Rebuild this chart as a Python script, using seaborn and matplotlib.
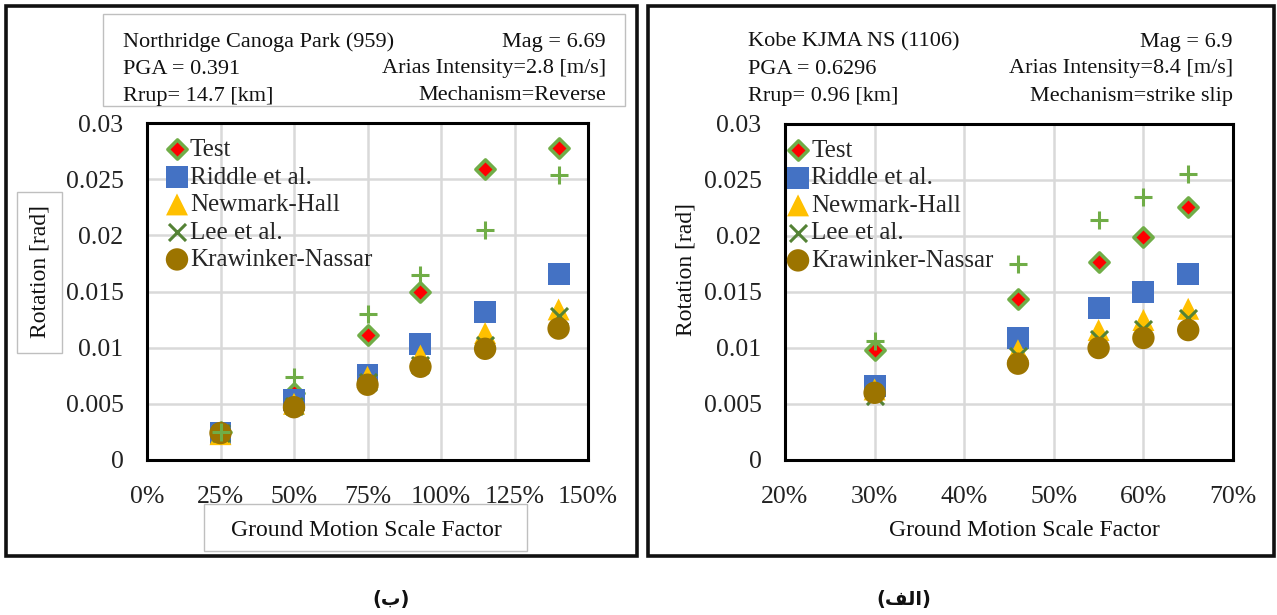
import matplotlib
matplotlib.use("Agg")
import matplotlib.pyplot as plt
import seaborn as sns
import pandas as pd
from matplotlib.patches import Rectangle
from matplotlib.ticker import FuncFormatter, MultipleLocator

W, H = 1277, 615

# Northridge Canoga Park (959)
north_scale = [25, 50, 75, 93, 115, 140]
north_test = [0.0025, 0.0060, 0.0111, 0.0150, 0.0259, 0.0278]
north_riddle = [0.0024, 0.0053, 0.0076, 0.0103, 0.0132, 0.0166]
north_newmark = [0.0023, 0.0050, 0.0074, 0.0093, 0.0113, 0.0134]
north_lee = [0.0024, 0.0048, 0.0069, 0.0085, 0.0102, 0.0128]
north_kraw = [0.0024, 0.0047, 0.0067, 0.0083, 0.0099, 0.0117]
north_plus = [0.0025, 0.0074, 0.0130, 0.0165, 0.0205, 0.0254]

# Kobe KJMA NS (1106)
kobe_scale = [30, 46, 55, 60, 65]
kobe_test = [0.0098, 0.0144, 0.0177, 0.0199, 0.0226]
kobe_riddle = [0.0066, 0.0109, 0.0136, 0.0150, 0.0166]
kobe_newmark = [0.0063, 0.0098, 0.0116, 0.0125, 0.0135]
kobe_lee = [0.0057, 0.0093, 0.0108, 0.0117, 0.0127]
kobe_kraw = [0.0060, 0.0086, 0.0100, 0.0109, 0.0116]
kobe_plus = [0.0106, 0.0175, 0.0214, 0.0235, 0.0255]

method_names = ["Test", "Riddle et al.", "Newmark-Hall", "Lee et al.", "Krawinker-Nassar"]

y_ticks = [0, 0.005, 0.01, 0.015, 0.02, 0.025, 0.03]

sns.set_theme(style="white")
plt.rcParams["font.family"] = ["Liberation Serif", "DejaVu Sans"]

styles = {
    "Test": dict(marker="D", s=95, color="#FF0000", edgecolor="#70AD47", linewidth=2.6, zorder=3),
    "Riddle et al.": dict(marker="s", s=250, color="#4472C4", edgecolor="none", linewidth=0, zorder=4),
    "Newmark-Hall": dict(marker="^", s=250, color="#FFC000", edgecolor="none", linewidth=0, zorder=5),
    "Lee et al.": dict(marker="x", s=150, color="#548235", linewidth=2.2, zorder=6),
    "Krawinker-Nassar": dict(marker="o", s=260, color="#9C7400", edgecolor="none", linewidth=0, zorder=7),
}


def fx(x):
    return x / W


def fy(y):
    return 1 - y / H


fig = plt.figure(figsize=(W / 100, H / 100), dpi=100)
fig.patch.set_facecolor("white")

# panel frames
for x0, x1 in [(6, 637), (648, 1274)]:
    fig.patches.append(Rectangle((fx(x0), fy(556)), (x1 - x0) / W, (556 - 6) / H,
                                 transform=fig.transFigure, fill=False,
                                 edgecolor="#111111", linewidth=2.6, zorder=0))

ax_l = fig.add_axes([fx(147), fy(460), (588 - 147) / W, (460 - 123) / H])
ax_r = fig.add_axes([fx(785), fy(460), (1233 - 785) / W, (460 - 124) / H])


def draw_panel(ax, scale, values, plus, xlim, xstep, legend_x):
    frame = pd.DataFrame({"scale": scale})
    for name, vals in zip(method_names, values):
        frame[name] = vals
    frame["plus"] = plus
    for name in method_names:
        sns.scatterplot(data=frame, x="scale", y=name, ax=ax, label=name, **styles[name])
    sns.scatterplot(data=frame, x="scale", y="plus", ax=ax, marker="+", s=180,
                    color="#70AD47", linewidth=2.2, zorder=8, legend=False)
    ax.set_xlim(*xlim)
    ax.set_ylim(0, 0.03)
    ax.xaxis.set_major_locator(MultipleLocator(xstep))
    ax.set_yticks(y_ticks)
    ax.xaxis.set_major_formatter(FuncFormatter(lambda v, p: f"{v:.0f}%"))
    ax.yaxis.set_major_formatter(FuncFormatter(lambda v, p: f"{v:g}"))
    ax.grid(True, color="#D9D9D9", linewidth=1.8)
    ax.set_axisbelow(True)
    for sp in ax.spines.values():
        sp.set_color("black")
        sp.set_linewidth(2.2)
    ax.tick_params(length=0, labelsize=18.5, colors="#222222")
    ax.tick_params(axis="y", pad=17)
    ax.tick_params(axis="x", pad=19)
    ax.set_xlabel("")
    ax.set_ylabel("")
    ax.legend(loc="upper left", bbox_to_anchor=(legend_x, 0.954), frameon=False,
              fontsize=18, handletextpad=0.07, labelspacing=0.2, borderaxespad=0,
              borderpad=0, handlelength=0.9, markerscale=1.0)


draw_panel(ax_l, north_scale,
           [north_test, north_riddle, north_newmark, north_lee, north_kraw],
           north_plus, (0, 150), 25, 0.0425)
draw_panel(ax_r, kobe_scale,
           [kobe_test, kobe_riddle, kobe_newmark, kobe_lee, kobe_kraw],
           kobe_plus, (20, 70), 10, 0.004)

txt = dict(fontsize=16, color="#111111", va="center", transform=fig.transFigure)

# header boxes
fig.patches.append(Rectangle((fx(103), fy(106)), (625 - 103) / W, (106 - 14) / H,
                             transform=fig.transFigure, fill=False,
                             edgecolor="#BFBFBF", linewidth=1.0))
left_lines = [("Northridge Canoga Park (959)", "Mag = 6.69"),
              ("PGA = 0.391", "Arias Intensity=2.8 [m/s]"),
              ("Rrup= 14.7 [km]", "Mechanism=Reverse")]
right_lines = [("Kobe KJMA NS (1106)", "Mag = 6.9"),
               ("PGA = 0.6296", "Arias Intensity=8.4 [m/s]"),
               ("Rrup= 0.96 [km]", "Mechanism=strike slip")]
for i, y in enumerate([42, 69, 96]):
    fig.text(fx(123), fy(y), left_lines[i][0], ha="left", **txt)
    fig.text(fx(606), fy(y), left_lines[i][1], ha="right", **txt)
    fig.text(fx(748), fy(y), right_lines[i][0], ha="left", **txt)
    fig.text(fx(1233), fy(y), right_lines[i][1], ha="right", **txt)

# axis titles
lab = dict(fontsize=17, color="#111111", ha="center", va="center", transform=fig.transFigure)
fig.patches.append(Rectangle((fx(17), fy(353)), (62 - 17) / W, (353 - 192) / H,
                             transform=fig.transFigure, fill=False,
                             edgecolor="#BFBFBF", linewidth=1.0))
fig.text(fx(40), fy(272), "Rotation [rad]", rotation=90, **lab)
fig.text(fx(686), fy(270), "Rotation [rad]", rotation=90, **lab)
fig.patches.append(Rectangle((fx(204), fy(551)), (527 - 204) / W, (551 - 504) / H,
                             transform=fig.transFigure, fill=False,
                             edgecolor="#BFBFBF", linewidth=1.0))
fig.text(fx(366), fy(530), "Ground Motion Scale Factor", **lab)
fig.text(fx(1024), fy(530), "Ground Motion Scale Factor", **lab)

# panel captions (Arabic letters in presentation forms, visual order)
cap = dict(fontsize=14, fontweight="bold", family=["DejaVu Sans"], color="#111111",
           ha="center", va="center", transform=fig.transFigure)
fig.text(fx(391), fy(599), "(\uFE8F)", **cap)
fig.text(fx(904), fy(599), "(\uFED2\uFEDF\u0627)", **cap)

fig.savefig("out.png", dpi=100, facecolor="white")
